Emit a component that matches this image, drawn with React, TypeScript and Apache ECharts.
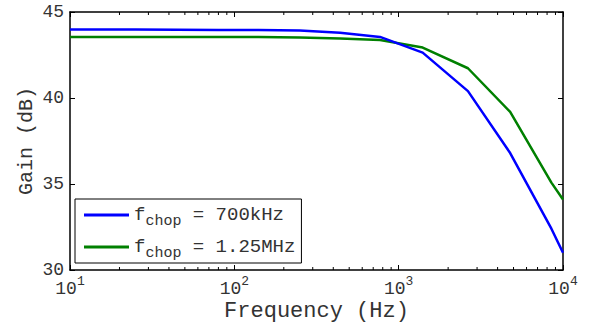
import React, { useEffect, useRef } from "react";
import * as echarts from "echarts";

const freqs = [10, 14, 25, 45, 80, 140, 250, 440, 770, 1400, 2640, 4770, 8500, 10000];
const gain700k = [43.98, 43.98, 43.98, 43.97, 43.96, 43.95, 43.92, 43.8, 43.55, 42.64, 40.4, 36.8, 32.4, 31.0];
const gain125M = [43.55, 43.55, 43.55, 43.55, 43.55, 43.54, 43.52, 43.46, 43.37, 42.93, 41.73, 39.19, 35.08, 34.1];
const seriesNames = ["700kHz", "1.25MHz"];
const minorTickFreqs = [
  20, 30, 40, 50, 60, 70, 80, 90,
  200, 300, 400, 500, 600, 700, 800, 900,
  2000, 3000, 4000, 5000, 6000, 7000, 8000, 9000,
];
const yTicks = { min: 30, max: 45, interval: 5 };
const xRange = { min: 10, max: 10000 };

const FONT = "'Liberation Mono', 'DejaVu Sans Mono', monospace";
const TXT = "#333";

export default function App() {
  const ref = useRef<HTMLDivElement>(null);
  useEffect(() => {
    if (!ref.current) return;
    const chart = echarts.init(ref.current, null, { renderer: "svg" });
    const supFmt = (v: number) => {
      const e = Math.round(Math.log10(v));
      return `{b|10}{s|${e}}`;
    };
    const axisLine = { show: true, onZero: false, lineStyle: { color: "#000", width: 1.5 } };
    const tickStyle = { show: true, inside: true, length: 5, lineStyle: { color: "#000", width: 1 } };
    const option: any = {
      animation: false,
      backgroundColor: "#fff",
      grid: { left: 70, right: 29, top: 12, bottom: 57, containLabel: false, outerBoundsMode: "none" },
      xAxis: [
        {
          type: "log",
          logBase: 10,
          min: xRange.min,
          max: xRange.max,
          position: "bottom",
          axisLine,
          axisTick: tickStyle,
          splitLine: { show: false },
          name: "Frequency (Hz)",
          nameLocation: "middle",
          nameGap: 31,
          nameMoveOverlap: false,
          nameTextStyle: { fontFamily: FONT, fontSize: 22, color: TXT, lineHeight: 20 },
          axisLabel: {
            margin: 4,
            formatter: supFmt,
            rich: {
              b: { fontFamily: FONT, fontSize: 18, color: TXT, padding: [6, 0, 0, 0] },
              s: { fontFamily: FONT, fontSize: 13, color: TXT, padding: [0, 0, 10, 0] },
            },
          },
        },
        {
          type: "log",
          logBase: 10,
          min: xRange.min,
          max: xRange.max,
          position: "top",
          axisLine,
          axisTick: tickStyle,
          axisLabel: { show: false },
          splitLine: { show: false },
        },
      ],
      yAxis: [
        {
          type: "value",
          min: yTicks.min,
          max: yTicks.max,
          interval: yTicks.interval,
          position: "left",
          axisLine,
          axisTick: tickStyle,
          splitLine: { show: false },
          name: "Gain (dB)",
          nameLocation: "middle",
          nameGap: 33,
          nameMoveOverlap: false,
          nameTextStyle: { fontFamily: FONT, fontSize: 20, color: TXT, lineHeight: 22 },
          axisLabel: { fontFamily: FONT, fontSize: 18, color: TXT, margin: 6 },
        },
        {
          type: "value",
          min: yTicks.min,
          max: yTicks.max,
          interval: yTicks.interval,
          position: "right",
          axisLine,
          axisTick: tickStyle,
          axisLabel: { show: false },
          splitLine: { show: false },
        },
      ],
      legend: {
        data: seriesNames,
        orient: "vertical",
        left: 75,
        top: 199,
        icon: "rect",
        itemWidth: 45,
        itemHeight: 3,
        itemGap: 4,
        padding: [2, 6, 2, 9],
        borderColor: "#000",
        borderWidth: 1,
        backgroundColor: "#fff",
        formatter: (name: string) => `{f|f}{s|chop}{a| = ${name}}`,
        textStyle: {
          fontFamily: FONT,
          rich: {
            f: { fontFamily: FONT, fontSize: 19, color: TXT, lineHeight: 27 },
            s: { fontFamily: FONT, fontSize: 15, color: TXT, lineHeight: 15, padding: [13, 0, 0, 0] },
            a: { fontFamily: FONT, fontSize: 19, color: TXT, lineHeight: 27 },
          },
        },
      },
      series: [
        {
          name: seriesNames[0],
          type: "line",
          data: freqs.map((f, i) => [f, gain700k[i]]),
          showSymbol: false,
          lineStyle: { color: "#0000ff", width: 2.5 },
          itemStyle: { color: "#0000ff" },
          z: 3,
        },
        {
          name: seriesNames[1],
          type: "line",
          data: freqs.map((f, i) => [f, gain125M[i]]),
          showSymbol: false,
          lineStyle: { color: "#008000", width: 2.5 },
          itemStyle: { color: "#008000" },
          z: 2,
        },
        {
          name: "minorTicks",
          type: "custom",
          silent: true,
          data: minorTickFreqs.map((f) => [f]),
          renderItem: (params: any, api: any) => {
            const f = api.value(0);
            const b = api.coord([f, yTicks.min]);
            const t = api.coord([f, yTicks.max]);
            return {
              type: "group",
              children: [
                { type: "line", shape: { x1: b[0], y1: b[1], x2: b[0], y2: b[1] - 3 }, style: { stroke: "#000", lineWidth: 1 } },
                { type: "line", shape: { x1: t[0], y1: t[1], x2: t[0], y2: t[1] + 3 }, style: { stroke: "#000", lineWidth: 1 } },
              ],
            };
          },
          z: 1,
        },
      ],
    };
    chart.setOption(option);
    return () => chart.dispose();
  }, []);
  return <div ref={ref} style={{ width: 592, height: 327, position: "absolute", left: 0, top: 0 }} />;
}
